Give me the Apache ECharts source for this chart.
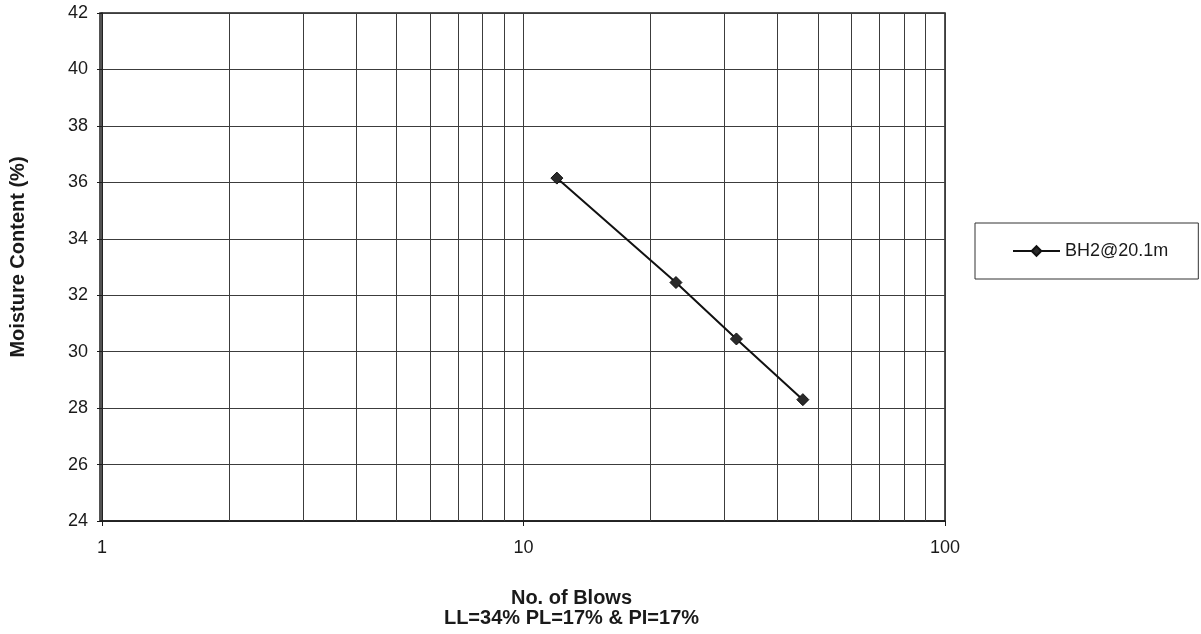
<!DOCTYPE html>
<html>
<head>
<meta charset="utf-8">
<script src="https://cdn.jsdelivr.net/npm/echarts@6/dist/echarts.min.js"></script>
<style>
  html, body { margin: 0; padding: 0; background: #fff; }
  #chart { width: 1201px; height: 634px; }
</style>
</head>
<body>
<div id="chart"></div>
<script>
// Liquid limit test: number of blows vs. moisture content
const seriesName = 'BH2@20.1m';
const blows = [12, 23, 32, 46];
const moisture = [36.15, 32.45, 30.45, 28.3];

// Intermediate log-decade grid lines
const minorGridValues = [2, 3, 4, 5, 6, 7, 8, 9, 20, 30, 40, 50, 60, 70, 80, 90];

const xAxisTitle = 'No. of Blows';
const xAxisSubtitle = 'LL=34% PL=17% & PI=17%';
const yAxisTitle = 'Moisture Content (%)';

const FONT = '"Liberation Sans", Arial, sans-serif';
const INK = '#1a1a1a';
const GRID = '#3c3c3c';

const chart = echarts.init(document.getElementById('chart'), null, { renderer: 'canvas' });

chart.setOption({
  backgroundColor: '#ffffff',
  animation: false,
  grid: { left: 100, right: 256, top: 13, bottom: 113, containLabel: false },
  legend: {
    left: 975,
    top: 223,
    orient: 'vertical',
    padding: [19, 30, 19, 37],
    borderColor: '#333',
    borderWidth: 1,
    itemWidth: 47,
    itemHeight: 12,
    textStyle: { fontFamily: FONT, fontSize: 18, color: INK },
    data: [{ name: seriesName }]
  },
  xAxis: {
    type: 'log',
    logBase: 10,
    min: 1,
    max: 100,
    name: xAxisTitle + '\n' + xAxisSubtitle,
    nameLocation: 'middle',
    nameGap: 67,
    nameTextStyle: {
      fontFamily: FONT, fontSize: 20, fontWeight: 'bold', color: INK,
      lineHeight: 20, padding: [0, 0, 0, 96]
    },
    axisLine: { show: true, lineStyle: { color: INK, width: 1.5 } },
    axisTick: { show: true, inside: false, length: 5, lineStyle: { color: INK } },
    axisLabel: { fontFamily: FONT, fontSize: 18, color: INK, margin: 18 },
    splitLine: { show: true, lineStyle: { color: GRID, width: 1 } },
    minorTick: { show: false },
    minorSplitLine: { show: false }
  },
  yAxis: {
    type: 'value',
    min: 24,
    max: 42,
    interval: 2,
    name: yAxisTitle,
    nameLocation: 'middle',
    nameGap: 74,
    nameTextStyle: {
      fontFamily: FONT, fontSize: 20, fontWeight: 'bold', color: INK,
      padding: [0, 0, 0, 20]
    },
    axisLine: { show: true, lineStyle: { color: INK, width: 1.5 } },
    axisTick: { show: true, inside: false, length: 5, lineStyle: { color: INK } },
    axisLabel: { fontFamily: FONT, fontSize: 18, color: INK, margin: 14 },
    splitLine: { show: true, lineStyle: { color: GRID, width: 1 } }
  },
  series: [
    {
      name: seriesName,
      type: 'line',
      data: blows.map((b, i) => [b, moisture[i]]),
      symbol: 'diamond',
      symbolSize: 12,
      showSymbol: true,
      lineStyle: { color: '#111', width: 2 },
      itemStyle: { color: '#2a2a2a', borderColor: '#111', borderWidth: 1 },
      z: 5,
      markLine: {
        silent: true,
        symbol: ['none', 'none'],
        label: { show: false },
        lineStyle: { color: GRID, width: 1, type: 'solid' },
        emphasis: { disabled: true },
        data: minorGridValues.map(v => ({ xAxis: v }))
      }
    }
  ],
  graphic: [
    {
      // outer frame of the plot area
      type: 'rect',
      shape: { x: 100, y: 13, width: 845, height: 508 },
      style: { fill: 'none', stroke: INK, lineWidth: 1.5 },
      silent: true,
      z: 0
    }
  ]
});
</script>
</body>
</html>
